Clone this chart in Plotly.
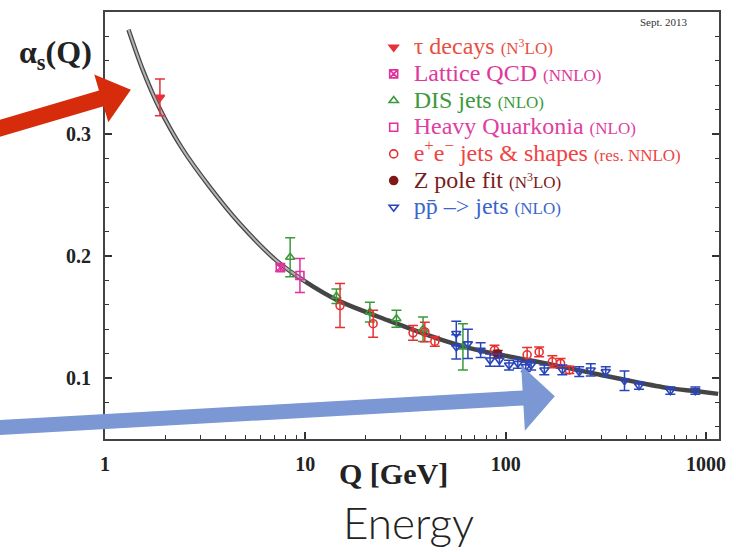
import plotly.graph_objects as go

# ---- running coupling curve (world average band) ----
curve_q = [1.31, 1.54, 1.86, 2.43, 3.3, 4.65, 7.2, 10.0, 14.6, 25.9, 45.9, 72.6, 144, 200, 300, 463, 664, 885, 1150]
curve_a = [0.3855, 0.353, 0.322, 0.288, 0.2575, 0.2275, 0.196, 0.179, 0.1634, 0.1472, 0.1323, 0.1228,
           0.1133, 0.1085, 0.1025, 0.0962, 0.0915, 0.0893, 0.087]

# ---- measurements ----
tau_q = [1.88]
tau_a = [0.330]
tau_e = [0.015]

lat_q = [7.5]
lat_a = [0.1905]
lat_e = [0.003]

dis_q = [8.4, 14.3, 21.0, 28.5, 38.7, 61.2]
dis_a = [0.199, 0.167, 0.154, 0.1486, 0.140, 0.1255]
dis_e = [0.016, 0.006, 0.008, 0.007, 0.010, 0.019]

hq_q = [9.4]
hq_a = [0.184]
hq_e = [0.014]

ee_q = [14.9, 21.8, 34.5, 39.5, 44.3, 88, 128, 147, 171, 188, 208]
ee_a = [0.1594, 0.1445, 0.137, 0.1377, 0.130, 0.1228, 0.119, 0.1214, 0.1133, 0.112, 0.1066]
ee_e = [0.018, 0.011, 0.006, 0.008, 0.004, 0.004, 0.006, 0.004, 0.005, 0.004, 0.003]

z_q = [91.2]
z_a = [0.1197]
z_e = [0.0029]

pp_q = [56.7, 56.7, 64.8, 75, 83.6, 93.1, 104, 115, 126, 134, 156, 192, 233, 266, 316, 392, 463, 664, 885]
pp_a = [0.1365, 0.1255, 0.128, 0.1228, 0.1147, 0.1147, 0.1106, 0.112, 0.1093, 0.1106, 0.1066,
        0.1066, 0.1052, 0.1066, 0.1052, 0.0978, 0.0937, 0.0896, 0.0896]
pp_e = [0.010, 0.010, 0.012, 0.006, 0.005, 0.005, 0.004, 0.004, 0.004, 0.004, 0.004,
        0.004, 0.004, 0.005, 0.004, 0.008, 0.003, 0.003, 0.003]

x_ticks = [1, 10, 100, 1000]
x_ticktext = ["1", "10", "100", "1000"]
y_ticks = [0.1, 0.2, 0.3]
y_ticktext = ["0.1", "0.2", "0.3"]

SERIF = "Liberation Serif, Times New Roman, serif"

fig = go.Figure()

# band: dark outline with lighter core at low Q
fig.add_trace(go.Scatter(x=curve_q, y=curve_a, mode="lines",
                         line=dict(color="#454545", width=4.5, shape="spline", smoothing=0.8),
                         showlegend=False, hoverinfo="skip"))
fig.add_trace(go.Scatter(x=curve_q[:8], y=curve_a[:8], mode="lines",
                         line=dict(color="#b4b4b4", width=2.0, shape="spline", smoothing=0.8),
                         showlegend=False, hoverinfo="skip"))

# (q, alpha, err, symbol, marker colour, label colour, label, order tag)
series = [
    (tau_q, tau_a, tau_e, "triangle-down", "#e8303a", "#e8503f", "τ decays", "(N<sup>3</sup>LO)"),
    (lat_q, lat_a, lat_e, "square-x-open", "#e0309a", "#e0389a", "Lattice QCD", "(NNLO)"),
    (dis_q, dis_a, dis_e, "triangle-up-open", "#3a9a3a", "#3c9a3c", "DIS jets", "(NLO)"),
    (hq_q, hq_a, hq_e, "square-open", "#e030a0", "#e0409f", "Heavy Quarkonia", "(NLO)"),
    (ee_q, ee_a, ee_e, "circle-open", "#e83030", "#ee4444",
     "e<sup>+</sup>e<sup>−</sup> jets &amp; shapes", "(res. NNLO)"),
    (z_q, z_a, z_e, "circle", "#801818", "#7a1c1c", "Z pole fit", "(N<sup>3</sup>LO)"),
    (pp_q, pp_a, pp_e, "triangle-down-open", "#2a45b8", "#3a66cc", "pp\u0304 –&gt; jets", "(NLO)"),
]

for q, a, e, sym, col, tcol, label, order in series:
    name = ("<span style='font-size:24px;color:%s'>%s <span style='font-size:17px'>%s</span></span>"
            % (tcol, label, order))
    fig.add_trace(go.Scatter(
        x=q, y=a, mode="markers", name=name,
        marker=dict(symbol=sym, size=8, color=col, line=dict(color=col, width=1.6)),
        error_y=dict(type="data", array=e, color=col, thickness=1.5, width=5),
    ))

# plot-area geometry in pixels
L, R, T, B = 105, 722, 10, 439


def to_paper(px, py):
    return (px - L) / (R - L), (B - py) / (B - T)


def arrow_path(tail, tip, hw, head_len, head_hw):
    dx, dy = tip[0] - tail[0], tip[1] - tail[1]
    n = (dx * dx + dy * dy) ** 0.5
    ux, uy = dx / n, dy / n
    nx, ny = -uy, ux
    bx, by = tip[0] - ux * head_len, tip[1] - uy * head_len
    pts = [
        (tail[0] + nx * hw, tail[1] + ny * hw),
        (bx + nx * hw, by + ny * hw),
        (bx + nx * head_hw, by + ny * head_hw),
        tip,
        (bx - nx * head_hw, by - ny * head_hw),
        (bx - nx * hw, by - ny * hw),
        (tail[0] - nx * hw, tail[1] - ny * hw),
    ]
    pp = [to_paper(*p) for p in pts]
    return "M " + " L ".join("%.5f,%.5f" % p for p in pp) + " Z"


fig.add_shape(type="path", xref="paper", yref="paper", layer="above",
              path=arrow_path((-6, 128.3), (131, 88), 8.2, 31, 25),
              fillcolor="#d62c0c", line=dict(width=0))
fig.add_shape(type="path", xref="paper", yref="paper", layer="above",
              path=arrow_path((-6, 427.8), (557, 396), 7.5, 32, 33),
              fillcolor="#7b97d4", line=dict(width=0))

ann = [
    dict(x=to_paper(55, 0)[0], y=to_paper(0, 53)[1], text="<b>α<sub>s</sub>(Q)</b>",
         font=dict(family=SERIF, size=32, color="#222")),
    dict(x=to_paper(395, 0)[0], y=to_paper(0, 474)[1], text="<b>Q [GeV]</b>",
         font=dict(family=SERIF, size=30, color="#222")),
    dict(x=to_paper(410, 0)[0], y=to_paper(0, 522)[1], text="Energy",
         font=dict(family="Lato, Open Sans, sans-serif", size=44, color="#222", weight=300)),
    dict(x=to_paper(667, 0)[0], y=to_paper(0, 20)[1], text="Sept. 2013",
         font=dict(family=SERIF, size=11, color="#333")),
]
for a_ in ann:
    fig.add_annotation(xref="paper", yref="paper", showarrow=False, xanchor="center", yanchor="middle", **a_)

minor_x = [m * 10 ** d for d in range(0, 4) for m in range(2, 10) if m * 10 ** d < 1150]

fig.update_xaxes(type="log", range=[0, 3.065], tickvals=x_ticks, ticktext=x_ticktext,
                 ticks="inside", ticklen=7, tickwidth=1.5, tickcolor="#333",
                 showline=True, linecolor="#444", linewidth=2, mirror=True,
                 showgrid=False, zeroline=False, ticklabelstandoff=6,
                 tickfont=dict(family=SERIF, size=20, color="#222", weight="bold"),
                 minor=dict(tickvals=minor_x, ticks="inside", ticklen=4, tickwidth=1.2, tickcolor="#333",
                            showgrid=False))
fig.update_yaxes(range=[0.05, 0.4], tickvals=y_ticks, ticktext=y_ticktext,
                 ticks="inside", ticklen=7, tickwidth=1.5, tickcolor="#333",
                 showline=True, linecolor="#444", linewidth=2, mirror="ticks",
                 showgrid=False, zeroline=False, ticklabelstandoff=8,
                 tickfont=dict(family=SERIF, size=20, color="#222", weight="bold"),
                 minor=dict(dtick=0.02, ticks="inside", ticklen=4, tickwidth=1.2, tickcolor="#333",
                            showgrid=False))

fig.update_layout(
    width=736, height=552,
    margin=dict(l=L, r=736 - R, t=T, b=552 - B),
    paper_bgcolor="white", plot_bgcolor="white",
    showlegend=True,
    legend=dict(x=to_paper(375, 0)[0], y=to_paper(0, 27)[1], xanchor="left", yanchor="top",
                bgcolor="rgba(0,0,0,0)", borderwidth=0, tracegroupgap=0,
                font=dict(family=SERIF, size=18.2, color="#333"), itemwidth=30),
)

fig.write_html("out.html")
